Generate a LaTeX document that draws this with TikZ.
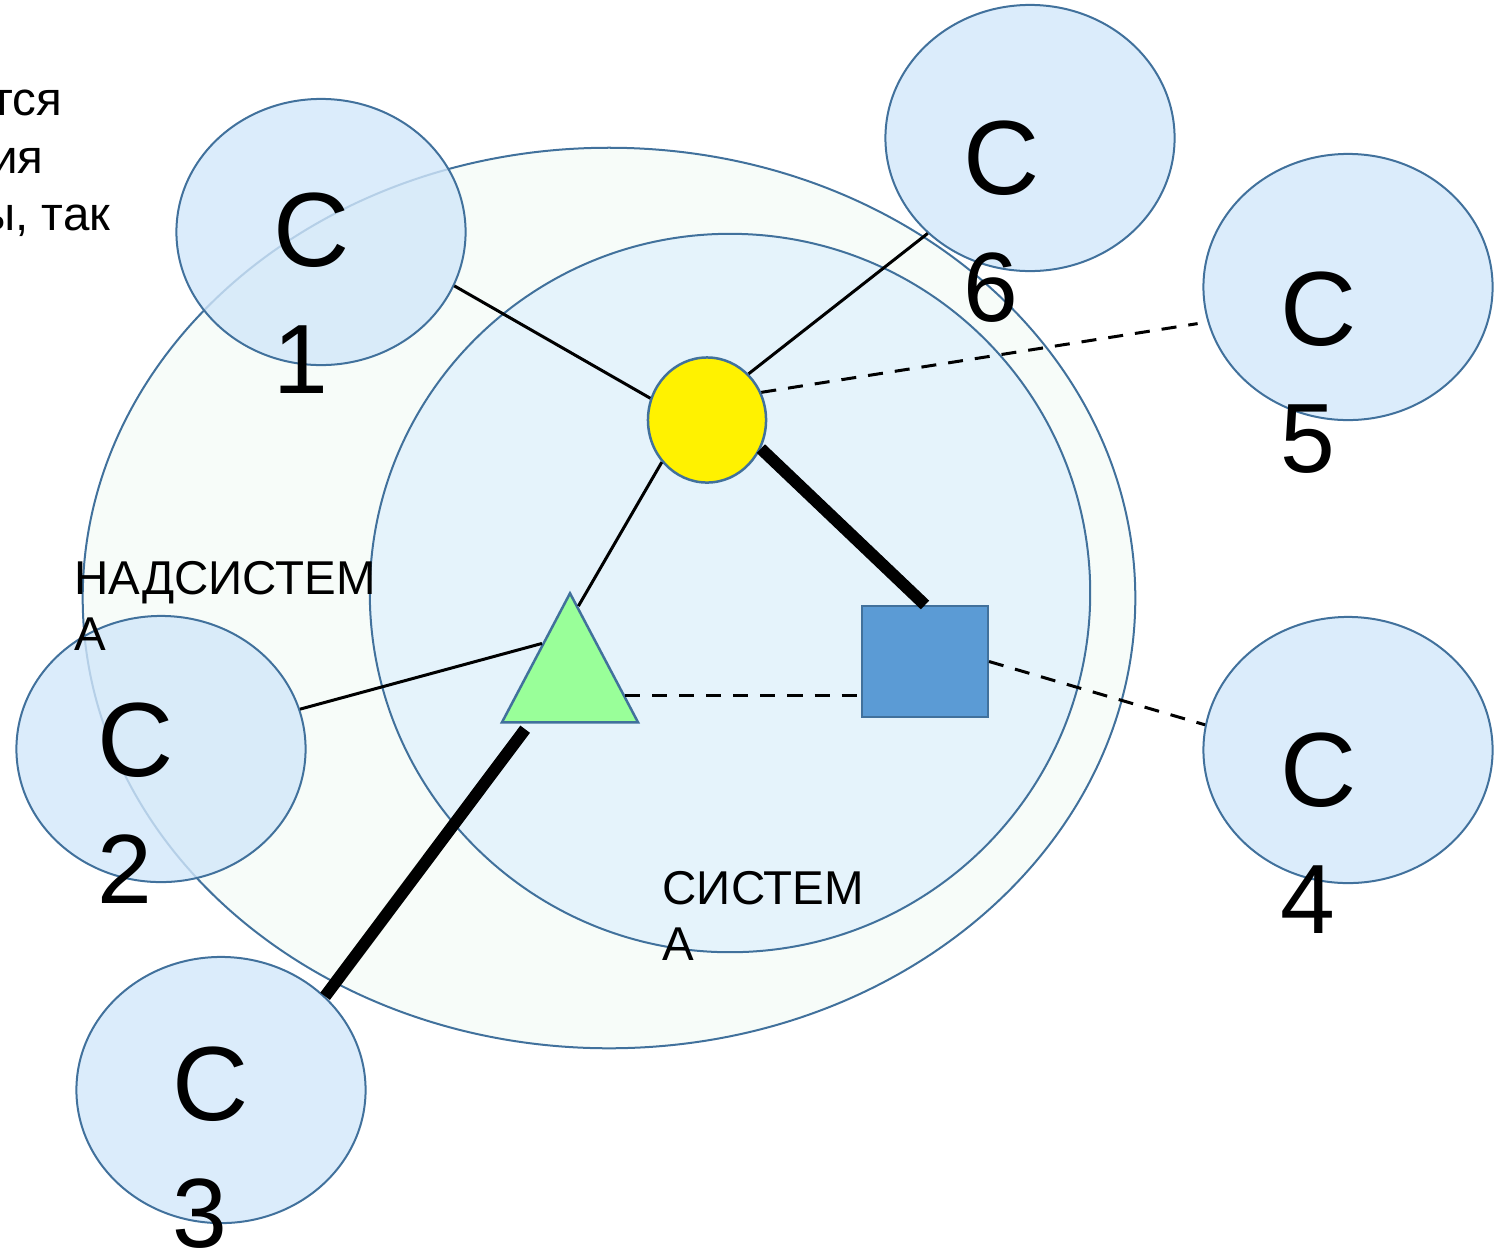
\documentclass[tikz,border=0pt]{standalone}
\usepackage{fontspec}
\setmainfont{Liberation Sans}
\usetikzlibrary{shapes.geometric,calc,positioning}

\definecolor{edgeblue}{RGB}{65,113,156}
\definecolor{superfill}{RGB}{247,252,249}
\definecolor{sysfill}{RGB}{229,243,251}
\definecolor{satfill}{RGB}{210,231,250}
\definecolor{boxfill}{RGB}{91,155,213}
\definecolor{trifill}{RGB}{153,255,153}

\newcommand{\satnum}[1]{{\fontsize{28}{35.9}\selectfont #1}}

\tikzset{
  sat/.style={ellipse, draw=edgeblue, line width=0.02cm, fill=satfill,
    fill opacity=0.8, minimum width=2.89cm, minimum height=2.66cm, inner sep=0},
  satname/.style={anchor=base west, inner sep=0, align=left,
    font=\fontsize{30}{35.9}\selectfont},
  caption/.style={anchor=base west, inner sep=0, align=left,
    font=\fontsize{13.5}{15.8}\selectfont},
  link/.style={line width=0.03cm},
  weaklink/.style={link, dash pattern=on 0.15cm off 0.12cm},
  stronglink/.style={line width=0.12cm},
}

\begin{document}
\begin{tikzpicture}[x=0.01cm, y=-0.01cm]
\useasboundingbox (0,0) rectangle (1501,1251);

% supersystem and system
\node[ellipse, draw=edgeblue, line width=0.02cm, fill=superfill,
    minimum width=10.52cm, minimum height=9cm, inner sep=0] (supsys) at (609,598) {};
\node[ellipse, draw=edgeblue, line width=0.02cm, fill=sysfill,
    minimum width=7.2cm, minimum height=7.18cm, inner sep=0] (sys) at (730,593) {};

% surrounding elements
\node[sat] (c1) at (321,232) {};
\node[sat] (c2) at (161,749) {};
\node[sat] (c3) at (221,1090) {};
\node[sat] (c4) at (1348,750) {};
\node[sat] (c5) at (1348,287) {};
\node[sat] (c6) at (1030,138) {};

% elements of the system
\node[ellipse, draw=edgeblue, line width=0.025cm, fill=yellow,
    minimum width=1.18cm, minimum height=1.25cm, inner sep=0] (sun) at (707,420) {};
\node[isosceles triangle, isosceles triangle stretches, shape border rotate=90,
    draw=edgeblue, line width=0.025cm, fill=trifill,
    minimum width=1.36cm, minimum height=1.29cm, inner sep=0,
    anchor=apex] (tri) at (570,590) {};
\node[rectangle, draw=edgeblue, line width=0.02cm, fill=boxfill,
    minimum width=1.26cm, minimum height=1.11cm, inner sep=0] (box) at (925,661.5) {};

% links
\draw[link] (c1.-22) -- (sun.159);
\draw[link] (c6.-137) -- (sun.48);
\draw[link] (sun.223) -- ($(tri.apex)!0.12!(tri.right corner)$);
\draw[link] (c2.16) -- ($(tri.apex)!0.4!(tri.left corner)$);
\draw[weaklink, shorten >=0.1cm] (sun.27) -- (c5.194);
\draw[weaklink] ($(tri.apex)!0.79!(tri.right corner)$) coordinate (tri-out)
    -- (tri-out -| box.west);
\draw[weaklink] (box.east) -- (c4.170);
\draw[stronglink] (sun.-28) -- (box.north);
\draw[stronglink, shorten <=0.07cm] ($(tri.left corner)!0.21!(tri.right corner)$) -- (c3.42);

% names of the elements (base = last line)
\node[satname] (c1t) at (273,393) {С\\\satnum{1}};
\node[satname] (c2t) at (97,903) {С\\\satnum{2}};
\node[satname] (c3t) at (172,1247) {С\\\satnum{3}};
\node[satname] (c4t) at (1280,933) {С\\\satnum{4}};
\node[satname] (c5t) at (1280,472) {С\\\satnum{5}};
\node[satname] (c6t) at (963,321) {С\\\satnum{6}};

\node[caption] (suplabel) at (74,650) {НАДСИСТЕМ\\А};
\node[caption] (syslabel) at (662,960) {СИСТЕМ\\А};

% text running in from the left
\node[caption, anchor=base east] (note1) at (63,115) {тся};
\node[caption, anchor=base east] (note2) at (44,173) {ия};
\node[caption, anchor=base east] (note3) at (111,230) {ы, так};

\end{tikzpicture}
\end{document}
